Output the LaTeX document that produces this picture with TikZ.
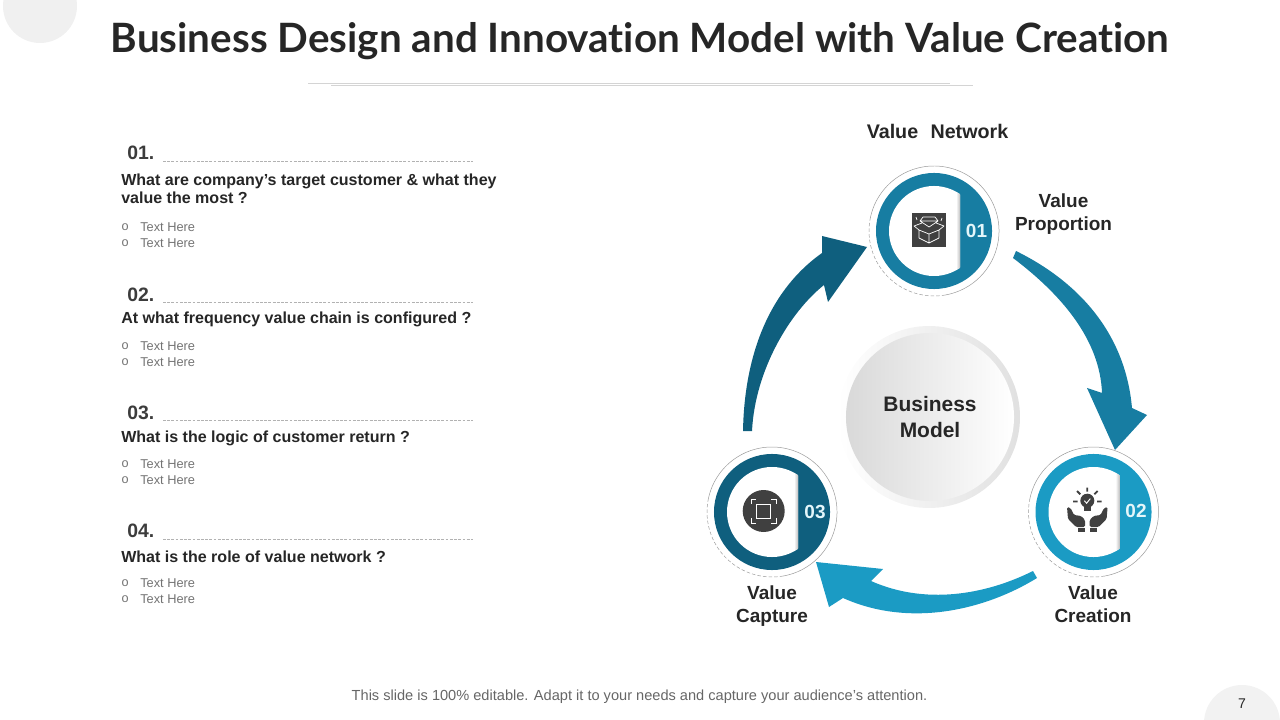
\documentclass[tikz,border=0pt]{standalone}
\usepackage{fontspec}
\setmainfont{Liberation Sans}
\newfontfamily\titlefont[Ligatures=NoCommon]{Lato}
\usetikzlibrary{positioning}
\definecolor{mDeep}{HTML}{0F5F7E}
\definecolor{mMid}{HTML}{177DA2}
\definecolor{mSky}{HTML}{1B9BC4}
\definecolor{mInk}{HTML}{262626}
\definecolor{mIcon}{HTML}{404040}
\definecolor{mNum}{HTML}{E4F6FA}
\begin{document}
\begin{tikzpicture}[x=0.025cm, y=-0.025cm,
      headtxt/.style={font=\titlefont\bfseries\fontsize{28.74}{32}\selectfont, text=mInk, inner sep=0},
      numtxt/.style={font=\bfseries\fontsize{13.8}{16}\selectfont, text=mInk!90, anchor=base west, inner sep=0},
      asktxt/.style={font=\bfseries\fontsize{11.4}{12.9}\selectfont, text=mInk, anchor=base west, inner sep=0, align=left},
      itemtxt/.style={font=\fontsize{9.1}{11}\selectfont, text=black!55, anchor=base west, inner sep=0,
        label={[font=\fontsize{9}{11}\selectfont, text=black!55, inner sep=0, label distance=7.8pt]left:o}},
      steptxt/.style={font=\bfseries\fontsize{13.5}{16.4}\selectfont, text=mInk, align=center, inner sep=0},
      badgetxt/.style={font=\bfseries\fontsize{13.5}{16}\selectfont, text=mNum, inner sep=0},
      dashrule/.style={black!30, dash pattern=on 2pt off 1pt, line width=0.4pt},
      hairrule/.style={black!17, line width=0.7pt},
      ringline/.style={black!40, line width=0.35pt},
      ringdash/.style={black!40, line width=0.35pt, dash pattern=on 2.5pt off 1.5pt},
      ringout/.style={circle, minimum size=2.9cm, inner sep=0},
      ringin/.style={circle, minimum size=2.25cm, inner sep=0, fill=white},
      bandedge/.style={left color=white, right color=black!25}]
    \clip (0,0) rectangle (1280,720);
    % page corners
    \fill[black!6] (40,6) circle[radius=37];
    \fill[black!5] (1242,723) circle[radius=38];
    % heading
    \node[headtxt] (title) at (640,41) {Business Design and Innovation Model with Value Creation};
    \draw[hairrule] (308,83) -- (950,83);
    \draw[hairrule] (331,85) -- (973,85);
    % question 01
    \node[numtxt] (numa) at (127,160) {01.};
    \draw[dashrule] (163,161) -- (473,161);
    \node[asktxt] (aska) at (121,186) {What are company’s target customer \& what they};
    \node[asktxt] (askb) at (121,204) {value the most ?};
    \node[itemtxt] (itema) at (140,231.5) {Text Here};
    \node[itemtxt] (itemb) at (140,247.5) {Text Here};
    % question 02
    \node[numtxt] (numb) at (127,302) {02.};
    \draw[dashrule] (163,302) -- (473,302);
    \node[asktxt] (askc) at (121,324) {At what frequency value chain is configured ?};
    \node[itemtxt] (itemc) at (140,350.5) {Text Here};
    \node[itemtxt] (itemd) at (140,366.5) {Text Here};
    % question 03
    \node[numtxt] (numc) at (127,419) {03.};
    \draw[dashrule] (163,420) -- (473,420);
    \node[asktxt] (askd) at (121,443) {What is the logic of customer return ?};
    \node[itemtxt] (iteme) at (140,468.5) {Text Here};
    \node[itemtxt] (itemf) at (140,484.5) {Text Here};
    % question 04
    \node[numtxt] (numd) at (127,537) {04.};
    \draw[dashrule] (163,539) -- (473,539);
    \node[asktxt] (aske) at (121,562) {What is the role of value network ?};
    \node[itemtxt] (itemg) at (140,587.5) {Text Here};
    \node[itemtxt] (itemh) at (140,603.5) {Text Here};
    % curved arrows
    \fill[mDeep] (743,431) .. controls (744,372) and (760,297) .. (822,253) -- (822,236) -- (867,247)
      -- (828,302) -- (824,285) .. controls (790,312) and (755,370) .. (752,431) -- cycle;
    \fill[mMid] (1016,251) .. controls (1075,280) and (1125,330) .. (1132,408) -- (1147,415) -- (1115,450)
      -- (1087,388) -- (1102,393) .. controls (1100,340) and (1062,295) .. (1013,258) -- cycle;
    \fill[mSky] (1037,578) .. controls (985,610) and (910,628) .. (843,598) -- (829,607) -- (816,562)
      -- (883,569) -- (871,581) .. controls (925,605) and (985,595) .. (1033,571) -- cycle;
    % centre
    \shade[left color=white, right color=black!12] (929,417) circle[radius=91];
    \node[circle, minimum size=4.2cm, inner sep=0, left color=black!15, right color=white,
      steptxt, font=\bfseries\fontsize{14.9}{17.8}\selectfont] (bizmodel) at (930,417) {Business\\Model};
    % ring 01
    \begin{scope}[shift={(934,231)}]
      \draw[ringline] (190:65) arc[start angle=190, end angle=440, radius=65];
      \draw[ringdash] (80:65) arc[start angle=80, end angle=190, radius=65];
      \node[ringout, fill=mMid] (ringa) at (0,0) {};
      \begin{scope}
        \clip (-45,-45) rectangle (26,45);
        \node[ringin] (holea) at (0,0) {};
        \clip (0,0) circle[radius=45];
        \shade[bandedge] (22,-45) rectangle (26,45);
      \end{scope}
      \node[badgetxt] (nora) at (42.5,0) {01};
    \end{scope}
    % ring 02
    \begin{scope}[shift={(1093.5,512)}]
      \draw[ringline] (190:65) arc[start angle=190, end angle=440, radius=65];
      \draw[ringdash] (80:65) arc[start angle=80, end angle=190, radius=65];
      \node[ringout, fill=mSky] (ringb) at (0,0) {};
      \begin{scope}
        \clip (-45,-45) rectangle (26,45);
        \node[ringin] (holeb) at (0,0) {};
        \clip (0,0) circle[radius=45];
        \shade[bandedge] (22,-45) rectangle (26,45);
      \end{scope}
      \node[badgetxt] (norb) at (42.5,-1) {02};
    \end{scope}
    % ring 03
    \begin{scope}[shift={(772,512)}]
      \draw[ringline] (190:65) arc[start angle=190, end angle=440, radius=65];
      \draw[ringdash] (80:65) arc[start angle=80, end angle=190, radius=65];
      \node[ringout, fill=mDeep] (ringc) at (0,0) {};
      \begin{scope}
        \clip (-45,-45) rectangle (26,45);
        \node[ringin] (holec) at (0,0) {};
        \clip (0,0) circle[radius=45];
        \shade[bandedge] (22,-45) rectangle (26,45);
      \end{scope}
      \node[badgetxt] (norc) at (43,0) {03};
    \end{scope}
    % icon box
    \fill[mIcon] (912,213) rectangle (946,247);
    \draw[white, line width=0.5pt, line join=round] (919,230) -- (929,234) -- (939,230) -- (939,238) -- (929,243)
      -- (919,238) -- cycle (929,234) -- (929,243) (919,230) -- (914,226) -- (922,223) (939,230) -- (944,226) -- (936,223)
      (923,217) -- (935,217) -- (938,221) -- (929,227) -- (920,221) -- cycle (920,221) -- (938,221)
      (916,217) -- (917,220) (942,218) -- (941,221);
    % icon bulb
    \fill[mIcon] (1087.3,500.7) circle[radius=7];
    \fill[mIcon] (1083.8,505) rectangle (1090.8,511);
    \draw[white, line width=0.7pt] (1084.4,500.8) -- (1086.6,503.2) -- (1090.3,498.6);
    \draw[mIcon, line width=1.3pt] (1087.3,487.5) -- (1087.3,491.5) (1077,491) -- (1080.3,494.3)
      (1097.6,491) -- (1094.3,494.3) (1073,501.5) -- (1077.5,501.5) (1097,501.5) -- (1101.5,501.5);
    \fill[mIcon, rounded corners=1pt] (1067,507) -- (1070.5,508) -- (1074,515) -- (1081,516) -- (1085,520)
      -- (1085,527) -- (1076,527) -- (1068,519) -- cycle;
    \fill[mIcon, rounded corners=1pt] (1107.6,507) -- (1104.1,508) -- (1100.6,515) -- (1093.6,516) -- (1089.6,520)
      -- (1089.6,527) -- (1098.6,527) -- (1106.6,519) -- cycle;
    \fill[mIcon] (1077.5,528.2) rectangle (1085.3,531.5);
    \fill[mIcon] (1089.5,528.2) rectangle (1097.3,531.5);
    % icon frame
    \fill[mIcon] (763.7,511) circle[radius=21];
    \draw[white, line width=0.5pt] (756.7,504) rectangle (770.7,518.3);
    \draw[white, line width=0.5pt] (751,504) -- (751,499) -- (756,499) (771,499) -- (776,499) -- (776,504)
      (776,518) -- (776,523) -- (771,523) (756,523) -- (751,523) -- (751,518);
    % step labels
    \node[steptxt, font=\bfseries\fontsize{14}{16.4}\selectfont] (lblnet) at (937.5,131) {Value\hspace{0.35em} Network};
    \node[steptxt] (lblprop) at (1063.5,214) {Value\\Proportion};
    \node[steptxt] (lblcreate) at (1093,604.5) {Value\\Creation};
    \node[steptxt] (lblcap) at (772,606.5) {Value\\Capture};
    % footer
    \node[font=\fontsize{10.38}{12}\selectfont, text=black!60, inner sep=0] (foot) at (639.5,696.5) {This slide is 100\% editable. Adapt it to your needs and capture your audience’s attention.};
    \node[font=\fontsize{10}{12}\selectfont, text=mInk, inner sep=0] (pageno) at (1242,704) {7};
  \end{tikzpicture}
\end{document}
